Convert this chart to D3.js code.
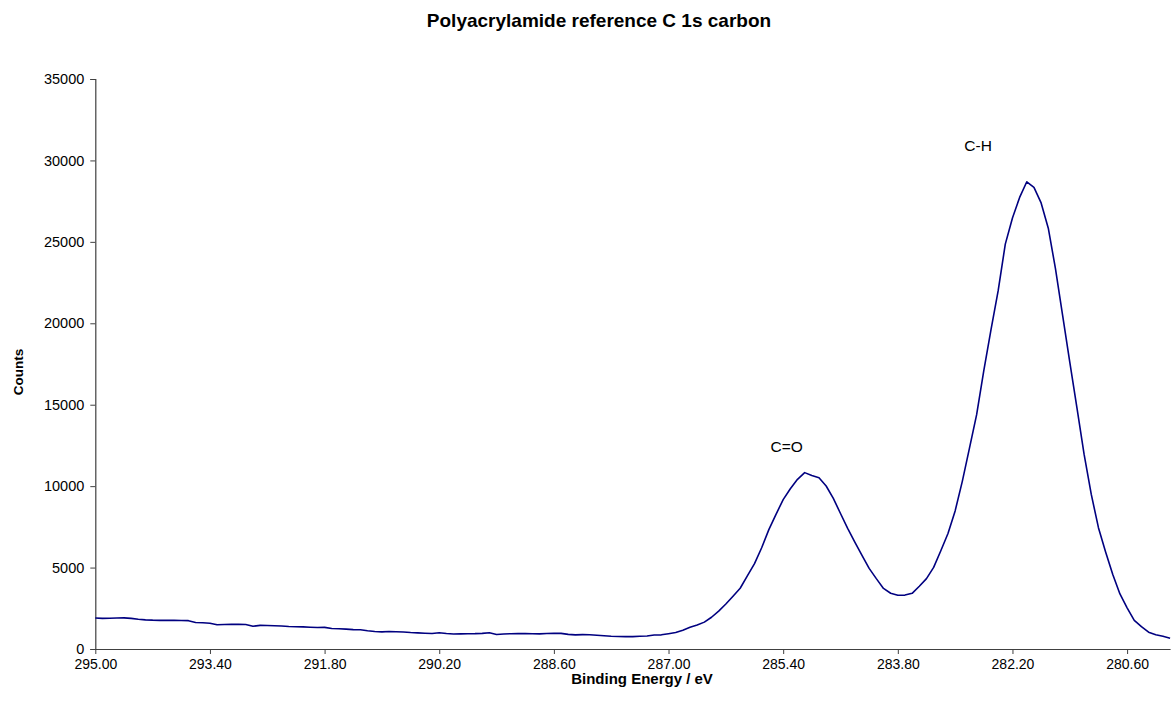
<!DOCTYPE html>
<html>
<head>
<meta charset="utf-8">
<script src="https://cdn.jsdelivr.net/npm/d3@7"></script>
<style>
  html, body { margin: 0; padding: 0; background: #fff; }
  svg { display: block; font-family: "Liberation Sans", Arial, sans-serif; }
</style>
</head>
<body>
<svg id="chart" width="1176" height="713"></svg>
<script>
// Binding energy (eV) of each channel, high to low
const energy = [
  295.0, 294.9, 294.8, 294.7, 294.6, 294.5, 294.4, 294.3, 294.2, 294.1,
  294.0, 293.9, 293.8, 293.7, 293.6, 293.5, 293.4, 293.3, 293.2, 293.1,
  293.0, 292.9, 292.8, 292.7, 292.6, 292.5, 292.4, 292.3, 292.2, 292.1,
  292.0, 291.9, 291.8, 291.7, 291.6, 291.5, 291.4, 291.3, 291.2, 291.1,
  291.0, 290.9, 290.8, 290.7, 290.6, 290.5, 290.4, 290.3, 290.2, 290.1,
  290.0, 289.9, 289.8, 289.7, 289.6, 289.5, 289.4, 289.3, 289.2, 289.1,
  289.0, 288.9, 288.8, 288.7, 288.6, 288.5, 288.4, 288.3, 288.2, 288.1,
  288.0, 287.9, 287.8, 287.7, 287.6, 287.5, 287.4, 287.3, 287.2, 287.1,
  287.0, 286.9, 286.8, 286.7, 286.6, 286.5, 286.4, 286.3, 286.2, 286.1,
  286.0, 285.9, 285.8, 285.7, 285.6, 285.5, 285.4, 285.3, 285.2, 285.1,
  285.0, 284.9, 284.8, 284.7, 284.6, 284.5, 284.4, 284.3, 284.2, 284.1,
  284.0, 283.9, 283.8, 283.7, 283.6, 283.5, 283.4, 283.3, 283.2, 283.1,
  283.0, 282.9, 282.8, 282.7, 282.6, 282.5, 282.4, 282.3, 282.2, 282.1,
  282.0, 281.9, 281.8, 281.7, 281.6, 281.5, 281.4, 281.3, 281.2, 281.1,
  281.0, 280.9, 280.8, 280.7, 280.6, 280.5, 280.4, 280.3, 280.2, 280.1,
  280.0
];

// C 1s counts per channel
const counts = [
  1900, 1880, 1890, 1900, 1910, 1880, 1830, 1790, 1770, 1760,
  1760, 1760, 1750, 1740, 1630, 1610, 1580, 1490, 1500, 1515,
  1510, 1500, 1400, 1450, 1440, 1430, 1410, 1380, 1370, 1360,
  1340, 1320, 1330, 1260, 1240, 1220, 1190, 1180, 1120, 1070,
  1050, 1070, 1060, 1040, 1010, 990, 970, 950, 1000, 950,
  920, 930, 940, 945, 960, 1000, 890, 920, 940, 945,
  945, 940, 930, 950, 960, 960, 900, 870, 880, 875,
  840, 810, 780, 770, 760, 760, 780, 800, 860, 870,
  940, 1010, 1150, 1330, 1470, 1650, 1950, 2330, 2760, 3240,
  3730, 4485, 5240, 6220, 7330, 8270, 9170, 9840, 10420, 10830,
  10650, 10520, 10010, 9250, 8320, 7410, 6560, 5750, 4950, 4320,
  3720, 3425, 3300, 3310, 3420, 3850, 4320, 5010, 6030, 7095,
  8480, 10295, 12330, 14390, 17090, 19590, 21990, 24860, 26470, 27730,
  28690, 28350, 27390, 25840, 23360, 20480, 17620, 14800, 11950, 9490,
  7450, 5960, 4570, 3380, 2530, 1760, 1370, 1030, 880, 780,
  660
];

// Labelled x-axis ticks (every 1.6 eV)
const xTickLabels = ["295.00", "293.40", "291.80", "290.20", "288.60",
                     "287.00", "285.40", "283.80", "282.20", "280.60"];
const yTickValues = [0, 5000, 10000, 15000, 20000, 25000, 30000, 35000];

// Peak assignments
const peakNames = ["C=O", "C-H"];
const peakEnergy = [285.35, 282.68];
const peakCounts = [12350, 30800];

const svg = d3.select("#chart");
const plotLeft = 95.3, plotRight = 1170.1, plotTop = 79, plotBottom = 649;

const x = d3.scaleLinear().domain([295.0, 280.0]).range([plotLeft, plotRight]);
const y = d3.scaleLinear().domain([0, 35000]).range([plotBottom, plotTop]);

const axisColor = "#404040";
const font = "Liberation Sans, Arial, sans-serif";

// Y axis
const yAxis = svg.append("g")
  .attr("transform", `translate(${plotLeft},0)`)
  .call(d3.axisLeft(y).tickValues(yTickValues).tickSize(5).tickPadding(6)
        .tickFormat(d3.format("d")));
yAxis.select(".domain").attr("stroke", axisColor).attr("stroke-width", 1.2);
yAxis.selectAll(".tick line").attr("stroke", axisColor);
yAxis.selectAll(".tick text").attr("fill", "#000")
  .style("font-size", "14.5px").style("font-family", font);

// X axis
const xAxis = svg.append("g")
  .attr("transform", `translate(0,${plotBottom})`)
  .call(d3.axisBottom(x).tickValues(xTickLabels.map(Number)).tickSize(5).tickSizeOuter(0)
        .tickPadding(5).tickFormat(d3.format(".2f")));
xAxis.select(".domain").attr("stroke", axisColor).attr("stroke-width", 1.2);
xAxis.selectAll(".tick line").attr("stroke", axisColor);
xAxis.selectAll(".tick text").attr("fill", "#000")
  .style("font-size", "14px").style("font-family", font);

// Spectrum line
const line = d3.line()
  .x((d, i) => x(energy[i]))
  .y(d => y(d));
svg.append("path")
  .datum(counts)
  .attr("fill", "none")
  .attr("stroke", "#000080")
  .attr("stroke-width", 1.6)
  .attr("stroke-linejoin", "round")
  .attr("d", line);

// Peak labels
svg.append("g").selectAll("text")
  .data(peakNames)
  .join("text")
  .attr("x", (d, i) => x(peakEnergy[i]))
  .attr("y", (d, i) => y(peakCounts[i]))
  .attr("text-anchor", "middle")
  .attr("dominant-baseline", "middle")
  .style("font-size", "15.5px")
  .text(d => d);

// Title
svg.append("text")
  .attr("x", 599).attr("y", 27)
  .attr("text-anchor", "middle")
  .style("font-size", "19px").style("font-weight", "bold")
  .text("Polyacrylamide reference C 1s carbon");

// Axis titles
svg.append("text")
  .attr("x", 642).attr("y", 684)
  .attr("text-anchor", "middle")
  .style("font-size", "15px").style("font-weight", "bold")
  .text("Binding Energy / eV");

svg.append("text")
  .attr("transform", `translate(23,372) rotate(-90)`)
  .attr("text-anchor", "middle")
  .style("font-size", "13.5px").style("font-weight", "bold")
  .text("Counts");
</script>
</body>
</html>
